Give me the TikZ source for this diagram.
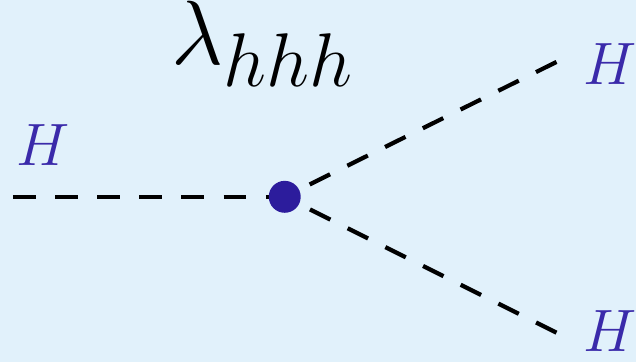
\documentclass[tikz,border=0pt]{standalone}
\usepackage{graphicx}
\usepackage{tikz}

\definecolor{bgblue}{HTML}{E1F1FB}
\definecolor{hblue}{HTML}{3A2AAA}
\definecolor{dotblue}{HTML}{2C1C9C}

\newcommand{\bigH}{\scalebox{1.37}{\Huge$H$}}

\tikzset{
  higgs/.style={dashed,line width=2.4pt,dash pattern=on 13pt off 11pt},
  hlabel/.style={text=hblue,inner sep=0pt},
  vertex/.style={circle,fill=dotblue,minimum size=0.64cm,inner sep=0pt}
}

\begin{document}
\begin{tikzpicture}[x=0.02cm,y=-0.02cm]
  \fill[bgblue] (0,0) rectangle (637,362);
  \coordinate (v) at (285,197);
  \coordinate (inL) at (13,197);
  \coordinate (outU) at (557,62);
  \coordinate (outD) at (557,333);
  \draw[higgs] (inL) -- (v);
  \draw[higgs] (outU) -- (v);
  \draw[higgs] (outD) -- (v);
  \node[vertex] (dot) at (v) {};
  \node[hlabel] (hL) at (43,145) {\bigH};
  \node[hlabel] (hU) at (611,64) {\bigH};
  \node[hlabel] (hD) at (611,331) {\bigH};
  \node[inner sep=0pt] (lam) at (263,44) {\scalebox{2.09}{\Huge$\lambda_{hhh}$}};
\end{tikzpicture}
\end{document}
